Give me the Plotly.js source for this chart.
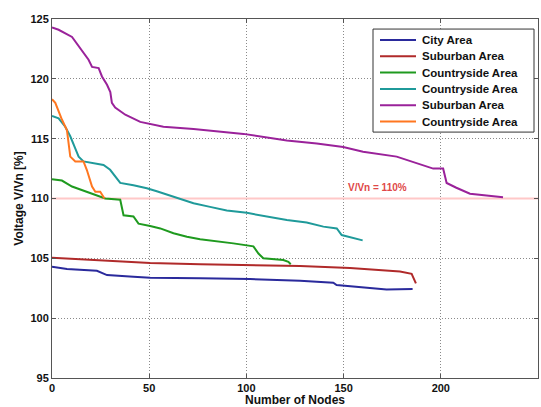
<!DOCTYPE html>
<html>
<head>
<meta charset="utf-8">
<script src="https://cdn.plot.ly/plotly-3.0.1.min.js"></script>
<style>html,body{margin:0;padding:0;background:#fff;}#chart{width:541px;height:407px;}</style>
</head>
<body>
<div id="chart"></div>
<script>
// City Area
const cityX = [0, 7.7, 23.1, 28.3, 41.9, 50.5, 76.2, 101.9, 127.6, 144.7, 146.4, 161.9, 172.1, 185.5];
const cityY = [104.3, 104.1, 103.96, 103.6, 103.46, 103.38, 103.33, 103.27, 103.13, 102.96, 102.77, 102.57, 102.4, 102.43];
// Suburban Area (1)
const sub1X = [0, 24.8, 50.5, 76.2, 101.9, 127.6, 153.3, 170.4, 179, 185, 187.2];
const sub1Y = [105.05, 104.86, 104.6, 104.5, 104.44, 104.36, 104.2, 104.0, 103.9, 103.7, 102.9];
// Countryside Area (1)
const cs1X = [0, 5.1, 10.3, 15.4, 20.6, 24, 27.4, 35.1, 36.8, 41.9, 44.5, 50.5, 55.7, 62.5, 69.4, 76.2, 86.5, 93.3, 103.6, 106.2, 108.7, 119, 121.6, 122.8];
const cs1Y = [111.6, 111.5, 111.0, 110.7, 110.4, 110.15, 110.0, 109.9, 108.6, 108.5, 107.9, 107.7, 107.5, 107.1, 106.8, 106.6, 106.4, 106.25, 106.0, 105.4, 105.0, 104.86, 104.7, 104.5];
// Countryside Area (2)
const cs2X = [0, 3.4, 6.8, 9.4, 11.9, 13.7, 16.2, 21.4, 26.5, 29.9, 32.5, 35.1, 41.9, 48.8, 53.9, 62.5, 72.8, 81.3, 89.9, 100.2, 110.5, 120.8, 131, 139.6, 146.5, 149, 159.8];
const cs2Y = [116.9, 116.7, 116.0, 115.2, 114.2, 113.5, 113.1, 112.95, 112.8, 112.4, 111.8, 111.3, 111.1, 110.85, 110.6, 110.15, 109.6, 109.3, 109.0, 108.8, 108.5, 108.2, 108.0, 107.65, 107.5, 106.95, 106.5];
// Suburban Area (2)
const sub2X = [0, 3.4, 10.3, 15.4, 18.8, 20.6, 24, 25.7, 28.3, 30, 30.8, 32.5, 37.7, 45.4, 52.2, 57.3, 72.8, 98.5, 120.8, 136.2, 149.8, 160, 177.3, 187.6, 196.1, 201.2, 203, 208, 215, 223.5, 232];
const sub2Y = [124.3, 124.1, 123.5, 122.4, 121.6, 121.0, 120.9, 120.2, 119.5, 118.9, 118.0, 117.6, 117.0, 116.4, 116.15, 116.0, 115.8, 115.4, 114.85, 114.6, 114.3, 113.9, 113.5, 112.95, 112.5, 112.5, 111.3, 110.9, 110.4, 110.25, 110.1];
// Countryside Area (3)
const cs3X = [0, 1.7, 5.1, 7.7, 9.4, 11.97, 16.2, 17.9, 20.6, 22.3, 24.8, 27];
const cs3Y = [118.3, 118.0, 116.6, 115.7, 113.5, 113.1, 113.1, 112.4, 111.0, 110.57, 110.57, 110.0];

const names = ["City Area", "Suburban Area", "Countryside Area", "Countryside Area", "Suburban Area", "Countryside Area"];
const colors = ["#2a2a9c", "#b02a2a", "#1f9a1f", "#1f9a9a", "#9a229a", "#ff7720"];
const xs = [cityX, sub1X, cs1X, cs2X, sub2X, cs3X];
const ys = [cityY, sub1Y, cs1Y, cs2Y, sub2Y, cs3Y];

const refLevel = 110;
const refLabel = "V/Vn = 110%";

const traces = [{
  x: [0, 250], y: [refLevel, refLevel], mode: 'lines', showlegend: false,
  line: {color: '#ffc8c8', width: 2}, hoverinfo: 'skip'
}];
for (let i = 0; i < 6; i++) {
  traces.push({x: xs[i], y: ys[i], name: names[i], mode: 'lines', showlegend: false, line: {color: colors[i], width: 2}});
}

const fontFam = '"Liberation Sans", Arial, sans-serif';
const axisCommon = {
  showgrid: true, gridcolor: '#8a8a8a', griddash: '1px,2px', gridwidth: 1,
  zeroline: false, showline: true, linecolor: '#555', linewidth: 1, mirror: 'ticks',
  ticks: 'inside', ticklen: 4, tickcolor: '#555',
  tickfont: {family: fontFam, size: 11, color: '#111', weight: 'bold'}
};

// Legend built in paper coordinates (MATLAB-style compact rows)
const lgLeft = 0.6605, lgRight = 0.9918, lgTop = 0.972, lgBottom = 0.685;
const rowStep = 16.3 / 359, firstRow = 1 - 21 / 359;
const shapes = [{
  type: 'rect', xref: 'paper', yref: 'paper', x0: lgLeft, x1: lgRight, y0: lgBottom, y1: lgTop,
  line: {color: '#333', width: 1}, fillcolor: '#fff', layer: 'above'
}];
const annotations = [{
  x: 151, y: 110.9, xref: 'x', yref: 'y', xanchor: 'left', yanchor: 'middle',
  text: refLabel, showarrow: false,
  font: {family: fontFam, size: 10, color: '#e04848', weight: 'bold'}
}];
for (let i = 0; i < names.length; i++) {
  const yy = firstRow - i * rowStep;
  shapes.push({type: 'line', xref: 'paper', yref: 'paper', x0: (380 - 52) / 486, x1: (416 - 52) / 486, y0: yy, y1: yy,
    line: {color: colors[i], width: 2}, layer: 'above'});
  annotations.push({xref: 'paper', yref: 'paper', x: (420 - 52) / 486, y: yy, xanchor: 'left', yanchor: 'middle',
    text: names[i], showarrow: false, font: {family: fontFam, size: 11.5, color: '#111', weight: 'bold'}});
}

const layout = {
  width: 541, height: 407,
  margin: {l: 52, r: 3, t: 19, b: 29},
  paper_bgcolor: '#fff', plot_bgcolor: '#fff',
  font: {family: fontFam},
  showlegend: false,
  xaxis: Object.assign({}, axisCommon, {
    range: [0, 250], tickvals: [0, 50, 100, 150, 200, 250],
    title: {text: 'Number of Nodes', font: {family: fontFam, size: 12, color: '#111', weight: 'bold'}, standoff: 2}
  }),
  yaxis: Object.assign({}, axisCommon, {
    range: [95, 125], tickvals: [95, 100, 105, 110, 115, 120, 125],
    title: {text: 'Voltage V/Vn [%]', font: {family: fontFam, size: 12, color: '#111', weight: 'bold'}, standoff: 4}
  }),
  shapes: shapes,
  annotations: annotations
};

Plotly.newPlot('chart', traces, layout, {displayModeBar: false, staticPlot: true});
</script>
</body>
</html>
